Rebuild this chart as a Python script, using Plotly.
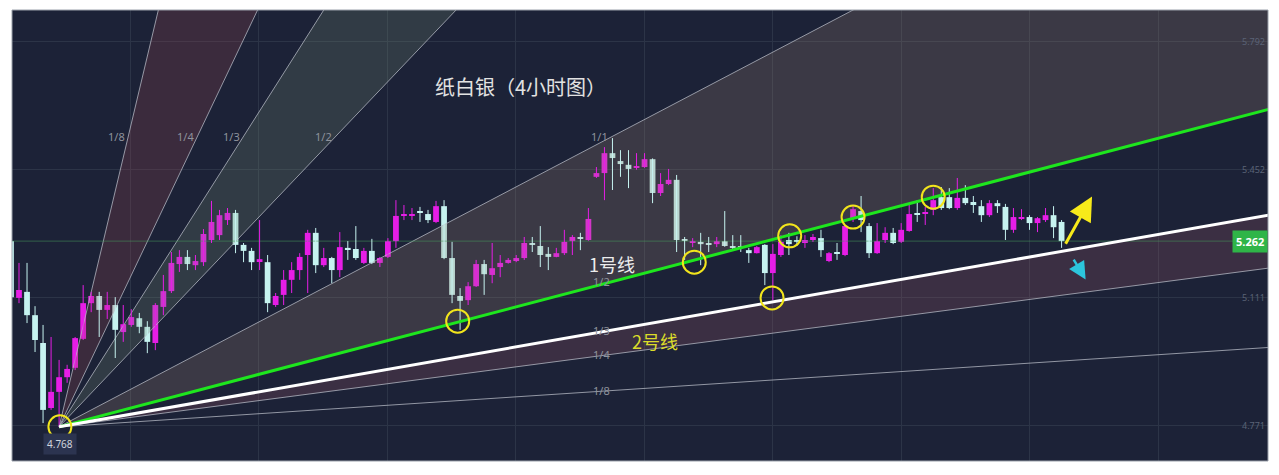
import plotly.graph_objects as go
import numpy as np

# ---------------- data ----------------
BAR_INDEX = list(range(-1, 131))
OPEN = [5.262, 5.111, 5.127, 5.065, 4.991, 4.818, 4.861, 4.900, 4.925, 5.002,
        5.097, 5.116, 5.079, 5.092, 5.020, 5.039, 5.057, 5.034, 4.991, 5.087,
        5.129, 5.201, 5.220, 5.198, 5.206, 5.265, 5.278, 5.318, 5.337, 5.252,
        5.236, 5.209, 5.206, 5.092, 5.119, 5.159, 5.185, 5.225, 5.284, 5.198,
        5.217, 5.185, 5.244, 5.241, 5.204, 5.236, 5.204, 5.220, 5.262, 5.329,
        5.329, 5.342, 5.334, 5.313, 5.355, 5.217, 5.116, 5.105, 5.142, 5.201,
        5.172, 5.193, 5.204, 5.209, 5.217, 5.255, 5.249, 5.228, 5.220, 5.230,
        5.262, 5.271, 5.265, 5.433, 5.443, 5.496, 5.475, 5.465, 5.457, 5.459,
        5.480, 5.390, 5.414, 5.425, 5.266, 5.257, 5.260, 5.256, 5.254, 5.262,
        5.249, 5.247, 5.238, 5.230, 5.252, 5.177, 5.225, 5.265, 5.262, 5.257,
        5.265, 5.270, 5.209, 5.231, 5.225, 5.323, 5.342, 5.302, 5.230, 5.265,
        5.284, 5.260, 5.289, 5.335, 5.335, 5.345, 5.379, 5.379, 5.350, 5.377,
        5.366, 5.355, 5.331, 5.363, 5.353, 5.292, 5.321, 5.326, 5.310, 5.318,
        5.331, 5.313]
HIGH = [5.270, 5.204, 5.204, 5.089, 5.039, 5.007, 4.946, 4.933, 5.007, 5.145,
        5.127, 5.127, 5.127, 5.113, 5.092, 5.081, 5.071, 5.049, 5.097, 5.172,
        5.233, 5.238, 5.238, 5.225, 5.294, 5.369, 5.345, 5.350, 5.345, 5.257,
        5.244, 5.318, 5.225, 5.124, 5.185, 5.206, 5.230, 5.292, 5.297, 5.244,
        5.220, 5.286, 5.262, 5.302, 5.244, 5.268, 5.220, 5.270, 5.371, 5.358,
        5.350, 5.353, 5.345, 5.369, 5.371, 5.260, 5.137, 5.153, 5.212, 5.212,
        5.257, 5.225, 5.217, 5.225, 5.273, 5.273, 5.302, 5.246, 5.244, 5.292,
        5.278, 5.284, 5.350, 5.459, 5.512, 5.536, 5.504, 5.504, 5.496, 5.496,
        5.482, 5.443, 5.454, 5.438, 5.273, 5.270, 5.284, 5.273, 5.273, 5.342,
        5.278, 5.278, 5.244, 5.249, 5.254, 5.254, 5.278, 5.284, 5.275, 5.278,
        5.281, 5.292, 5.233, 5.257, 5.305, 5.358, 5.382, 5.310, 5.310, 5.299,
        5.297, 5.310, 5.358, 5.371, 5.353, 5.403, 5.406, 5.403, 5.430, 5.411,
        5.382, 5.371, 5.371, 5.371, 5.361, 5.350, 5.347, 5.331, 5.326, 5.350,
        5.355, 5.318]
LOW = [5.105, 5.097, 5.044, 4.967, 4.778, 4.813, 4.768, 4.885, 4.919, 4.999,
       5.073, 5.007, 5.055, 4.951, 4.994, 5.034, 5.017, 4.964, 4.972, 5.065,
       5.124, 5.180, 5.185, 5.185, 5.196, 5.257, 5.265, 5.305, 5.230, 5.206,
       5.185, 5.185, 5.073, 5.087, 5.092, 5.124, 5.159, 5.124, 5.177, 5.193,
       5.150, 5.166, 5.212, 5.212, 5.201, 5.201, 5.193, 5.217, 5.244, 5.318,
       5.318, 5.313, 5.310, 5.310, 5.214, 5.097, 5.026, 5.092, 5.140, 5.119,
       5.150, 5.166, 5.202, 5.206, 5.212, 5.233, 5.193, 5.185, 5.219, 5.225,
       5.225, 5.238, 5.263, 5.430, 5.371, 5.398, 5.433, 5.403, 5.452, 5.457,
       5.363, 5.382, 5.411, 5.233, 5.212, 5.246, 5.198, 5.233, 5.246, 5.247,
       5.238, 5.233, 5.204, 5.229, 5.145, 5.105, 5.220, 5.225, 5.249, 5.244,
       5.260, 5.220, 5.206, 5.212, 5.222, 5.313, 5.286, 5.217, 5.228, 5.257,
       5.254, 5.257, 5.287, 5.313, 5.305, 5.331, 5.345, 5.347, 5.345, 5.358,
       5.337, 5.313, 5.326, 5.337, 5.265, 5.284, 5.318, 5.292, 5.286, 5.313,
       5.270, 5.244]
CLOSE = [5.113, 5.132, 5.065, 4.999, 4.813, 4.861, 4.900, 4.922, 5.004, 5.097,
         5.116, 5.079, 5.092, 5.026, 5.041, 5.060, 5.034, 4.994, 5.092, 5.129,
         5.204, 5.220, 5.201, 5.209, 5.281, 5.313, 5.331, 5.337, 5.252, 5.236,
         5.206, 5.214, 5.097, 5.116, 5.159, 5.185, 5.220, 5.284, 5.198, 5.217,
         5.185, 5.246, 5.241, 5.217, 5.236, 5.204, 5.217, 5.262, 5.329, 5.331,
         5.334, 5.339, 5.318, 5.355, 5.217, 5.119, 5.103, 5.142, 5.201, 5.174,
         5.190, 5.204, 5.212, 5.217, 5.257, 5.253, 5.225, 5.220, 5.230, 5.260,
         5.273, 5.268, 5.321, 5.443, 5.496, 5.483, 5.467, 5.454, 5.460, 5.480,
         5.390, 5.414, 5.425, 5.265, 5.264, 5.262, 5.254, 5.254, 5.262, 5.249,
         5.244, 5.245, 5.230, 5.246, 5.177, 5.228, 5.260, 5.254, 5.260, 5.265,
         5.273, 5.238, 5.230, 5.229, 5.302, 5.347, 5.318, 5.230, 5.262, 5.284,
         5.257, 5.292, 5.334, 5.333, 5.338, 5.371, 5.350, 5.350, 5.377, 5.363,
         5.358, 5.331, 5.363, 5.355, 5.292, 5.326, 5.326, 5.310, 5.323, 5.331,
         5.299, 5.262]

# Gann fan
FAN_ORIGIN_X = 5
FAN_ORIGIN_PRICE = 4.768
FAN_BASE_SLOPE = 0.0112          # price per bar of the 1/1 line
FAN_UPPER_RATIOS = [8, 4, 3, 2, 1]
FAN_UPPER_LABELS = ["1/8", "1/4", "1/3", "1/2", "1/1"]
FAN_LOWER_RATIOS = [1 / 2, 1 / 3, 1 / 4, 1 / 8]
FAN_LOWER_LABELS = ["1/2", "1/3", "1/4", "1/8"]

# price scale ticks
Y_TICKS = [4.771, 5.111, 5.452, 5.792]
Y_TICK_TEXT = ["4.771", "5.111", "5.452", "5.792"]
LAST_PRICE = 5.262

# touch points marked with yellow circles
CIRCLE_X = [5.1, 54.7, 84.2, 93.9, 96.1, 104.0, 114.0]
CIRCLE_Y = [4.768, 5.049, 5.206, 5.111, 5.276, 5.326, 5.379]

# ---------------- layout constants ----------------
X_MIN, X_MAX = -0.873, 155.74
Y_MIN, Y_MAX = 4.6771, 5.8768
BG = "#1c2237"
GRID = "#2c3447"
UP_COLOR = "#e61ee6"
DOWN_COLOR = "#c6f3f0"
BODY_WIDTH = 0.72
MIN_BODY = 0.0025


def fan_price(ratio, x):
    return FAN_ORIGIN_PRICE + FAN_BASE_SLOPE * ratio * (np.asarray(x) - FAN_ORIGIN_X)


fig = go.Figure()

# sector fills
fills = [
    (8, 4, "rgba(150,70,82,0.26)"),
    (3, 2, "rgba(110,135,110,0.25)"),
    (1, 1 / 2, "rgba(150,128,112,0.25)"),
    (1 / 3, 1 / 4, "rgba(152,86,102,0.25)"),
]
for ra, rb, col in fills:
    xs = [FAN_ORIGIN_X, X_MAX + 1, X_MAX + 1, FAN_ORIGIN_X]
    ys = [FAN_ORIGIN_PRICE, float(fan_price(ra, X_MAX + 1)),
          float(fan_price(rb, X_MAX + 1)), FAN_ORIGIN_PRICE]
    fig.add_trace(go.Scatter(x=xs, y=ys, mode="lines", fill="toself",
                             fillcolor=col, line=dict(width=0),
                             hoverinfo="skip", showlegend=False))

# thin fan lines
for r in FAN_UPPER_RATIOS + [1 / 4, 1 / 8]:
    xx = [FAN_ORIGIN_X, X_MAX + 1]
    fig.add_trace(go.Scatter(x=xx, y=fan_price(r, xx), mode="lines",
                             line=dict(color="rgba(185,190,200,0.75)", width=1),
                             hoverinfo="skip", showlegend=False))

# last price line
fig.add_trace(go.Scatter(x=[X_MIN, X_MAX], y=[LAST_PRICE, LAST_PRICE], mode="lines",
                         line=dict(color="rgba(70,150,90,0.55)", width=1),
                         hoverinfo="skip", showlegend=False))

# candles: wicks + bodies
o = np.array(OPEN)
h = np.array(HIGH)
l = np.array(LOW)
c = np.array(CLOSE)
xi = np.array(BAR_INDEX, dtype=float)
up = c >= o
for mask, col in ((up, UP_COLOR), (~up, DOWN_COLOR)):
    wx, wy = [], []
    for x_, lo_, hi_ in zip(xi[mask], l[mask], h[mask]):
        wx += [x_, x_, None]
        wy += [lo_, hi_, None]
    fig.add_trace(go.Scatter(x=wx, y=wy, mode="lines",
                             line=dict(color=col, width=1),
                             hoverinfo="skip", showlegend=False))
    base = np.minimum(o[mask], c[mask])
    height = np.maximum(np.abs(c[mask] - o[mask]), MIN_BODY)
    fig.add_trace(go.Bar(x=xi[mask], y=height, base=base, width=BODY_WIDTH,
                         marker=dict(color=col, line=dict(width=0)),
                         hoverinfo="skip", showlegend=False))

# line 1 (green) and line 2 (white)
xx = [FAN_ORIGIN_X, X_MAX + 1]
fig.add_trace(go.Scatter(x=xx, y=fan_price(1 / 2, xx), mode="lines",
                         line=dict(color="#1ee61e", width=3),
                         hoverinfo="skip", showlegend=False))
fig.add_trace(go.Scatter(x=xx, y=fan_price(1 / 3, xx), mode="lines",
                         line=dict(color="#ffffff", width=3),
                         hoverinfo="skip", showlegend=False))

# yellow circles
fig.add_trace(go.Scatter(x=CIRCLE_X, y=CIRCLE_Y, mode="markers",
                         marker=dict(symbol="circle-open", size=23, color="#f2e51c",
                                     line=dict(width=2, color="#f2e51c")),
                         hoverinfo="skip", showlegend=False))

annotations = []
LABEL_FONT = dict(family="Noto Sans, Roboto, sans-serif", size=11, color="#8e929c")
UPPER_LABEL_PRICE = 5.539
for r, lab in zip(FAN_UPPER_RATIOS, FAN_UPPER_LABELS):
    xc = FAN_ORIGIN_X + (UPPER_LABEL_PRICE - FAN_ORIGIN_PRICE) / (FAN_BASE_SLOPE * r)
    annotations.append(dict(x=xc, y=UPPER_LABEL_PRICE, text=lab, showarrow=False,
                            xanchor="right", yanchor="middle", xshift=-1,
                            font=LABEL_FONT))
LOWER_LABEL_X = 73.9
for r, lab in zip(FAN_LOWER_RATIOS, FAN_LOWER_LABELS):
    annotations.append(dict(x=LOWER_LABEL_X, y=float(fan_price(r, LOWER_LABEL_X)),
                            text=lab, showarrow=False, xanchor="right",
                            yanchor="middle", font=LABEL_FONT))

CJK = "Noto Sans CJK SC, sans-serif"
annotations += [
    dict(x=62.5, y=5.672, text="纸白银（4小时图）", showarrow=False,
         font=dict(family=CJK, size=20, color="#e2e2e2")),
    dict(x=73.9, y=5.185, yshift=6, text="1号线", showarrow=False,
         font=dict(family=CJK, size=18, color="#ececec")),
    dict(x=79.3, y=4.996, text="2号线", showarrow=False,
         font=dict(family=CJK, size=18, color="#dcdc2a")),
    # price tags
    dict(xref="paper", x=1.0, y=LAST_PRICE, text="<b>5.262</b>", showarrow=False,
         xanchor="right", yanchor="middle", bgcolor="#2fb548", borderpad=3,
         font=dict(family="Noto Sans, sans-serif", size=11, color="#ffffff")),
    dict(x=FAN_ORIGIN_X + 0.1, y=FAN_ORIGIN_PRICE, yshift=-17, text="4.768",
         showarrow=False, bgcolor="#2c3450", borderpad=3,
         font=dict(family="Noto Sans, sans-serif", size=10, color="#d0d4dc")),
    # arrows
    dict(x=133.8, y=5.381, ax=130.4, ay=5.251, axref="x", ayref="y",
         showarrow=True, arrowhead=2, arrowsize=1.6, arrowwidth=3,
         arrowcolor="#f7ea1a", text=""),
    dict(x=133.0, y=5.160, ax=131.4, ay=5.217, axref="x", ayref="y",
         showarrow=True, arrowhead=2, arrowsize=1.4, arrowwidth=2.5,
         arrowcolor="#2cc6dc", text=""),
]

fig.update_layout(
    width=1279, height=475,
    margin=dict(l=12, r=11, t=10, b=14),
    paper_bgcolor="#ffffff",
    plot_bgcolor=BG,
    barmode="overlay",
    annotations=annotations,
    showlegend=False,
    xaxis=dict(range=[X_MIN, X_MAX],
               showticklabels=False, tickmode="linear", tick0=13.85, dtick=16.03,
               showgrid=True, gridcolor=GRID, gridwidth=1, zeroline=False,
               showline=False, ticks=""),
    yaxis=dict(range=[Y_MIN, Y_MAX], side="right", tickvals=Y_TICKS,
               ticktext=Y_TICK_TEXT, ticklabelposition="inside",
               tickfont=dict(family="Noto Sans, sans-serif", size=9, color="#5a6276"),
               showgrid=True, gridcolor=GRID, gridwidth=1, zeroline=False,
               showline=False, ticks=""),
    shapes=[dict(type="rect", xref="paper", yref="paper", x0=0, y0=0, x1=1, y1=1,
                 line=dict(color="#9aa0aa", width=1), layer="above")],
)

fig.write_html("out.html",
               config={"displayModeBar": False},
               post_script="document.body.style.margin='0';"
                           "document.body.style.overflow='hidden';")
